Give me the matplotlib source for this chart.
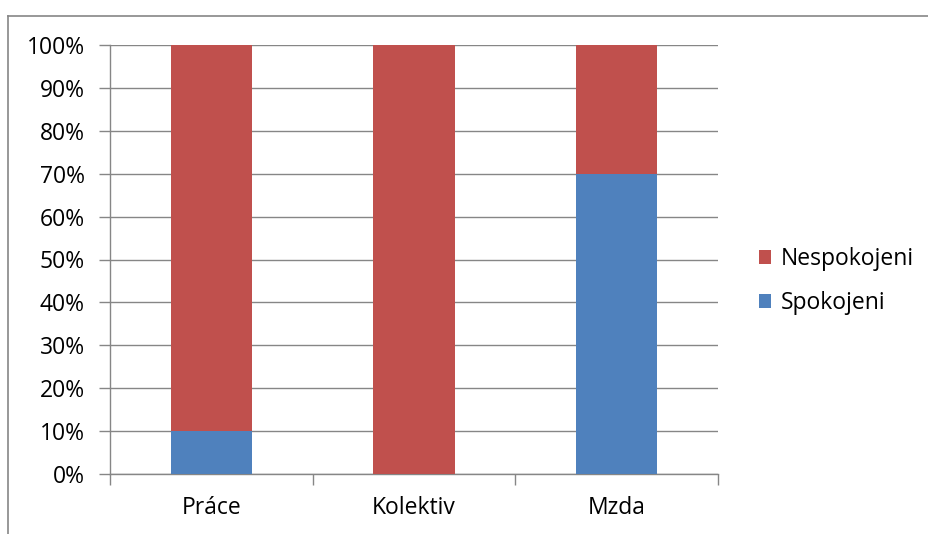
import matplotlib
matplotlib.use("Agg")
import matplotlib.pyplot as plt
from matplotlib.lines import Line2D
from matplotlib.ticker import MultipleLocator, PercentFormatter

plt.rcParams['font.family'] = ['Open Sans', 'DejaVu Sans']

categories = ["Práce", "Kolektiv", "Mzda"]
spokojeni = [10, 0, 70]
nespokojeni = [90, 100, 30]

W, H = 929, 534
fig = plt.figure(figsize=(W / 100, H / 100), dpi=100)
ax = fig.add_axes([110 / W, 1 - 474 / H, (718 - 110) / W, (474 - 45) / H])

grid_col = "#868686"
x = range(len(categories))
ax.bar(x, spokojeni, width=0.4, color="#4F81BD", label="Spokojeni", zorder=3)
ax.bar(x, nespokojeni, width=0.4, bottom=spokojeni, color="#C0504D",
       label="Nespokojeni", zorder=3)

ax.set_xlim(-0.5, len(categories) - 0.5)
ax.set_ylim(0, 100)
ax.yaxis.set_major_locator(MultipleLocator(10))
ax.yaxis.set_major_formatter(PercentFormatter(decimals=0))
ax.grid(axis="y", color=grid_col, linewidth=1, zorder=0)

ax.set_xticks(x)
ax.set_xticklabels(categories)
ax.set_xticks([i - 0.5 for i in range(len(categories) + 1)], minor=True)
ax.tick_params(axis="x", which="major", length=0, pad=16)
ax.tick_params(axis="x", which="minor", length=8, color=grid_col, width=1)
ax.tick_params(axis="y", length=8, color=grid_col, width=1, pad=10)
ax.tick_params(labelsize=16.5, labelcolor="black")

for side in ("top", "right"):
    ax.spines[side].set_visible(False)
for side in ("left", "bottom"):
    ax.spines[side].set_color(grid_col)
    ax.spines[side].set_linewidth(1)

handles, labels = ax.get_legend_handles_labels()
ax.legend(handles[::-1], labels[::-1], loc="center left",
          bbox_to_anchor=(738 / W, 1 - 281 / H), bbox_transform=fig.transFigure,
          frameon=False, fontsize=16.5, handlelength=0.55, handleheight=0.55,
          handletextpad=0.4, labelspacing=0.88)

# outer chart frame
fy = 1 - 16 / H
fx = 8 / W
fig.add_artist(Line2D([fx, 1], [fy, fy], transform=fig.transFigure,
                      color=grid_col, linewidth=1.2))
fig.add_artist(Line2D([fx, fx], [fy, 0], transform=fig.transFigure,
                      color=grid_col, linewidth=1.2))

fig.savefig("out.png", dpi=100)
